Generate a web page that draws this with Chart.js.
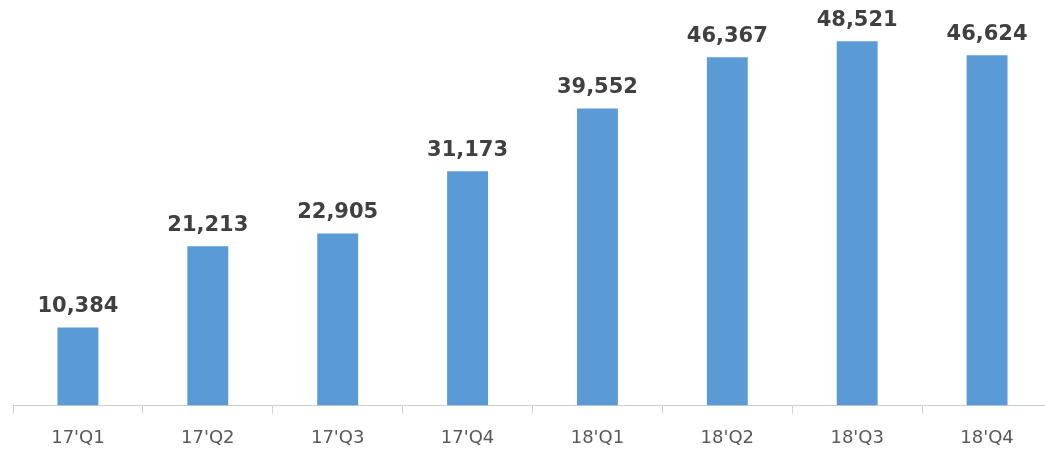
<!DOCTYPE html>
<html>
<head>
<meta charset="utf-8">
<script src="https://cdn.jsdelivr.net/npm/chart.js@4/dist/chart.umd.min.js"></script>
<style>
  html, body { margin: 0; padding: 0; background: #fff; overflow: hidden; }
  #wrap { width: 1052px; height: 453px; }
</style>
</head>
<body>
<div id="wrap"><canvas id="chart"></canvas></div>
<script>
const quarters = ["17'Q1", "17'Q2", "17'Q3", "17'Q4", "18'Q1", "18'Q2", "18'Q3", "18'Q4"]
const totals = [10384, 21213, 22905, 31173, 39552, 46367, 48521, 46624]

// value labels above each bar
const barLabels = {
  id: "barLabels",
  afterDatasetsDraw(chart) {
    const ctx = chart.ctx
    const meta = chart.getDatasetMeta(0)
    ctx.save()
    ctx.font = "bold 21px 'DejaVu Sans'"
    ctx.fillStyle = "#404040"
    ctx.textAlign = "center"
    ctx.textBaseline = "alphabetic"
    meta.data.forEach((bar, i) => {
      ctx.fillText(totals[i].toLocaleString("en-US"), bar.x, bar.y - 15)
    })
    ctx.restore()
  },
}

new Chart(document.getElementById("chart"), {
  type: "bar",
  data: {
    labels: quarters,
    datasets: [
      {
        data: totals,
        backgroundColor: "#5B9BD5",
        barPercentage: 0.315,
        categoryPercentage: 1,
      },
    ],
  },
  options: {
    responsive: true,
    maintainAspectRatio: false,
    animation: false,
    layout: { padding: { left: 13, right: 0, top: 0, bottom: -10 } },
    plugins: { legend: { display: false }, tooltip: { enabled: false } },
    scales: {
      x: {
        offset: true,
        grid: {
          offset: true,
          drawOnChartArea: false,
          drawTicks: true,
          tickLength: 8,
          color: "#cfcfcf",
        },
        border: { color: "#cfcfcf" },
        ticks: {
          color: "#595959",
          font: { family: "'DejaVu Sans'", size: 18 },
          padding: 14,
          maxRotation: 0,
        },
      },
      y: {
        display: false,
        min: 0,
        max: 54000,
      },
    },
  },
  plugins: [barLabels],
})
</script>
</body>
</html>
